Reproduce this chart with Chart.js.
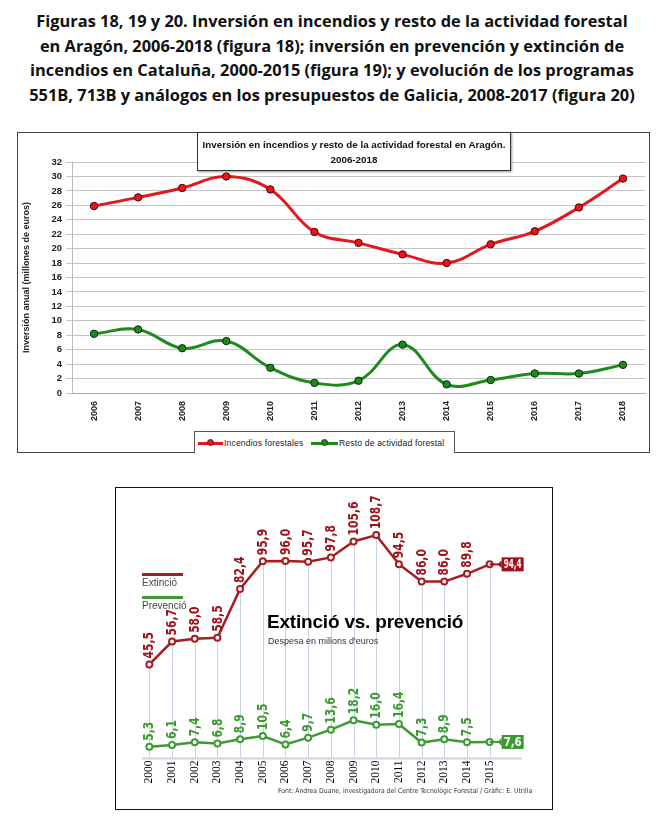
<!DOCTYPE html>
<html>
<head>
<meta charset="utf-8">
<script src="https://cdn.jsdelivr.net/npm/chart.js@4.4.1/dist/chart.umd.min.js"></script>
<style>
  body { margin: 0; background: #fff; width: 664px; height: 826px; position: relative; overflow: hidden; font-family: "Liberation Sans", Arial, sans-serif; }
  .abs { position: absolute; }
  #pageTitle { left: 0; top: 9px; width: 664px; text-align: center; font-family: "Open Sans", Lato, sans-serif; font-weight: 700; font-size: 16.4px; line-height: 24.7px; color: #111; }
  #frame1 { left: 17px; top: 132px; width: 633px; height: 321px; border: 1.5px solid #444; box-sizing: border-box; }
  #frame2 { left: 115px; top: 487px; width: 438px; height: 323px; border: 1.5px solid #111; box-sizing: border-box; }
  #box1 { left: 197px; top: 132px; width: 314px; height: 39px; border: 1.5px solid #333; box-sizing: border-box; background: #fff; box-shadow: 1px 1px 2px #999; text-align: center; font-weight: bold; font-size: 9.8px; line-height: 15px; padding-top: 4px; color: #111; }
  #legend1 { left: 194px; top: 431px; width: 261px; height: 22px; border: 1px solid #555; border-bottom: none; box-sizing: border-box; background: #fff; font-size: 8.6px; color: #222; letter-spacing: 0.15px; }
  .lgItem { position: absolute; top: 6px; white-space: nowrap; }
  .lgLine { position: absolute; top: 10px; height: 3px; }
  .lgDot { position: absolute; top: 7px; width: 7px; height: 7px; border-radius: 50%; box-sizing: border-box; border: 1px solid #333; }
</style>
</head>
<body>
<div id="pageTitle" class="abs">Figuras 18, 19 y 20. Inversión en incendios y resto de la actividad forestal<br>en Aragón, 2006-2018 (figura 18); inversión en prevención y extinción de<br>incendios en Cataluña, 2000-2015 (figura 19); y evolución de los programas<br>551B, 713B y análogos en los presupuestos de Galicia, 2008-2017 (figura 20)</div>

<div id="frame1" class="abs"></div>
<canvas id="chart1" class="abs" style="left:17px;top:132px" width="633" height="321"></canvas>
<div id="box1" class="abs">Inversión en incendios y resto de la actividad forestal en Aragón.<br>2006-2018</div>
<div id="legend1" class="abs">
  <div class="lgLine" style="left:3px;width:25px;background:#e3171e"></div>
  <div class="lgDot" style="left:12px;background:#e3171e"></div>
  <div class="lgItem" style="left:29px">Incendios forestales</div>
  <div class="lgLine" style="left:116px;width:27px;background:#1e8a1e"></div>
  <div class="lgDot" style="left:126px;background:#1e8a1e"></div>
  <div class="lgItem" style="left:144px">Resto de actividad forestal</div>
</div>

<div id="frame2" class="abs"></div>
<canvas id="chart2" class="abs" style="left:116px;top:488px" width="436" height="321"></canvas>
<div class="abs" style="left:142px;top:573px;width:41px;height:3px;background:#a51e22"></div>
<div class="abs" style="left:142px;top:577px;font-size:10px;color:#444">Extinció</div>
<div class="abs" style="left:142px;top:596px;width:41px;height:3px;background:#3d9a35"></div>
<div class="abs" style="left:142px;top:600px;font-size:10px;color:#444">Prevenció</div>
<div class="abs" style="left:267px;top:611px;font-size:19px;font-weight:bold;color:#000;letter-spacing:-0.2px">Extinció vs. prevenció</div>
<div class="abs" style="left:268px;top:636px;font-size:9px;color:#333">Despesa en milions d'euros</div>
<div class="abs" style="left:278px;top:787px;font-size:6.8px;color:#333;font-family:'Liberation Sans Narrow','DejaVu Sans Condensed',sans-serif">Font: Andrea Duane, investigadora del Centre Tecnològic Forestal / Gràfic: E. Utrilla</div>

<script>
// Figura 18 - Aragón
const aragonYears = ['2006', '2007', '2008', '2009', '2010', '2011', '2012', '2013', '2014', '2015', '2016', '2017', '2018'];
const incendiosForestales = [25.9, 27.1, 28.4, 30.0, 28.2, 22.3, 20.8, 19.2, 18.0, 20.6, 22.4, 25.7, 29.7];
const restoActividad = [8.2, 8.8, 6.2, 7.2, 3.5, 1.4, 1.7, 6.7, 1.2, 1.8, 2.7, 2.7, 3.9];

// Figura 19 - Cataluña
const cataYears = ['2000', '2001', '2002', '2003', '2004', '2005', '2006', '2007', '2008', '2009', '2010', '2011', '2012', '2013', '2014', '2015'];
const extincio = [45.5, 56.7, 58.0, 58.5, 82.4, 95.9, 96.0, 95.7, 97.8, 105.6, 108.7, 94.5, 86.0, 86.0, 89.8, 94.4];
const prevencio = [5.3, 6.1, 7.4, 6.8, 8.9, 10.5, 6.4, 9.7, 13.6, 18.2, 16.0, 16.4, 7.3, 8.9, 7.5, 7.6];

const RED = '#e3171e';
const GREEN = '#1e8a1e';
const DARKRED = '#a51e22';
const LIGHTGREEN = '#3d9a35';

// top chart
new Chart(document.getElementById('chart1').getContext('2d'), {
  type: 'line',
  data: {
    labels: aragonYears,
    datasets: [{
      label: 'Incendios forestales',
      data: incendiosForestales,
      borderColor: RED,
      backgroundColor: RED,
      pointBackgroundColor: RED,
      pointBorderColor: '#4a0000',
      pointBorderWidth: 1,
      pointRadius: 3.7,
      borderWidth: 3,
      tension: 0.4
    }, {
      label: 'Resto de actividad forestal',
      data: restoActividad,
      borderColor: GREEN,
      backgroundColor: GREEN,
      pointBackgroundColor: GREEN,
      pointBorderColor: '#042a04',
      pointBorderWidth: 1,
      pointRadius: 3.7,
      borderWidth: 3,
      tension: 0.4
    }]
  },
  options: {
    responsive: false,
    animation: false,
    layout: { padding: { top: 30, right: 5, left: 0, bottom: 0 } },
    plugins: { legend: { display: false }, tooltip: { enabled: false } },
    scales: {
      x: {
        offset: true,
        grid: { display: false, drawTicks: false },
        border: { color: '#aaa' },
        ticks: { minRotation: 90, maxRotation: 90, color: '#222', padding: 8, font: { family: 'Liberation Sans', weight: 'bold', size: 9 } },
        afterFit(scale) { scale.height = 60; }
      },
      y: {
        min: 0,
        max: 32,
        grid: { color: '#c4c4c4', tickLength: 6 },
        border: { color: '#bbb' },
        ticks: { stepSize: 2, color: '#222', padding: 4, font: { family: 'Liberation Sans', weight: 'bold', size: 9.5 } },
        title: { display: true, text: 'Inversión anual (millones de euros)', color: '#222', font: { family: 'Liberation Sans', weight: 'bold', size: 9 } },
        afterFit(scale) { scale.width = 55; }
      }
    }
  }
});

// labels, drop lines and baseline for the Catalan chart
const cataLabels = {
  id: 'cataLabels',
  beforeDatasetsDraw(chart) {
    const ctx = chart.ctx;
    const area = chart.chartArea;
    const pts = chart.getDatasetMeta(0).data;
    ctx.save();
    ctx.strokeStyle = '#c6d4e4';
    ctx.lineWidth = 1;
    pts.forEach(p => {
      ctx.beginPath();
      ctx.moveTo(Math.round(p.x) + 0.5, p.y);
      ctx.lineTo(Math.round(p.x) + 0.5, area.bottom);
      ctx.stroke();
    });
    ctx.strokeStyle = '#cdd6e0';
    ctx.lineWidth = 2;
    ctx.beginPath();
    ctx.moveTo(area.left + 4, area.bottom + 1);
    ctx.lineTo(area.right + 21, area.bottom + 1);
    ctx.stroke();
    ctx.restore();
  },
  afterDatasetsDraw(chart) {
    const ctx = chart.ctx;
    chart.data.datasets.forEach((ds, di) => {
      const pts = chart.getDatasetMeta(di).data;
      const last = pts.length - 1;
      pts.forEach((p, i) => {
        const txt = ds.data[i].toFixed(1).replace('.', ',');
        ctx.save();
        if (i === last) {
          // boxed final value
          const bx = p.x + 12, by = p.y - 7, bw = 22, bh = 14;
          ctx.strokeStyle = ds.labelColor;
          ctx.lineWidth = 2;
          ctx.beginPath();
          ctx.moveTo(p.x, p.y);
          ctx.lineTo(bx, p.y);
          ctx.stroke();
          ctx.fillStyle = ds.labelColor;
          ctx.beginPath();
          ctx.moveTo(bx - 4, p.y);
          ctx.lineTo(bx, p.y - 4);
          ctx.lineTo(bx, p.y + 4);
          ctx.closePath();
          ctx.fill();
          ctx.fillRect(bx, by, bw, bh);
          ctx.fillStyle = '#fff';
          ctx.font = 'bold 12px "Liberation Sans Narrow", "DejaVu Sans Condensed", sans-serif';
          ctx.textAlign = 'center';
          ctx.textBaseline = 'middle';
          const w = ctx.measureText(txt).width;
          ctx.translate(bx + bw / 2, p.y + 0.5);
          ctx.scale(Math.min(1, (bw - 4) / w), 1);
          ctx.fillText(txt, 0, 0);
        } else {
          ctx.fillStyle = ds.labelColor;
          ctx.font = 'bold 14px "Liberation Sans Narrow", "DejaVu Sans Condensed", sans-serif';
          ctx.textAlign = 'left';
          ctx.textBaseline = 'middle';
          ctx.translate(p.x + 0.5, p.y - 6);
          ctx.rotate(-Math.PI / 2);
          ctx.scale(0.85, 1);
          ctx.fillText(txt, 0, 0);
        }
        ctx.restore();
      });
    });
  }
};

// bottom chart
new Chart(document.getElementById('chart2').getContext('2d'), {
  type: 'line',
  data: {
    labels: cataYears,
    datasets: [{
      label: 'Extinció',
      data: extincio,
      labelColor: '#a01018',
      borderColor: DARKRED,
      pointBackgroundColor: '#fff',
      pointBorderColor: DARKRED,
      pointBorderWidth: 2,
      pointRadius: 3,
      borderWidth: 2.5,
      tension: 0
    }, {
      label: 'Prevenció',
      data: prevencio,
      labelColor: '#3a9a2e',
      borderColor: LIGHTGREEN,
      pointBackgroundColor: '#fff',
      pointBorderColor: LIGHTGREEN,
      pointBorderWidth: 2,
      pointRadius: 3,
      borderWidth: 2.5,
      tension: 0
    }]
  },
  options: {
    responsive: false,
    animation: false,
    layout: { padding: { top: 24, right: 51, left: 22, bottom: 0 } },
    plugins: { legend: { display: false }, tooltip: { enabled: false } },
    scales: {
      x: {
        offset: true,
        grid: { display: false, drawTicks: false },
        border: { display: false },
        ticks: { minRotation: 90, maxRotation: 90, color: '#000', padding: 3, font: { family: 'Liberation Serif', size: 11.5 } },
        afterFit(scale) { scale.height = 51.5; }
      },
      y: { display: false, min: 0, max: 120 }
    }
  },
  plugins: [cataLabels]
});
</script>
</body>
</html>
